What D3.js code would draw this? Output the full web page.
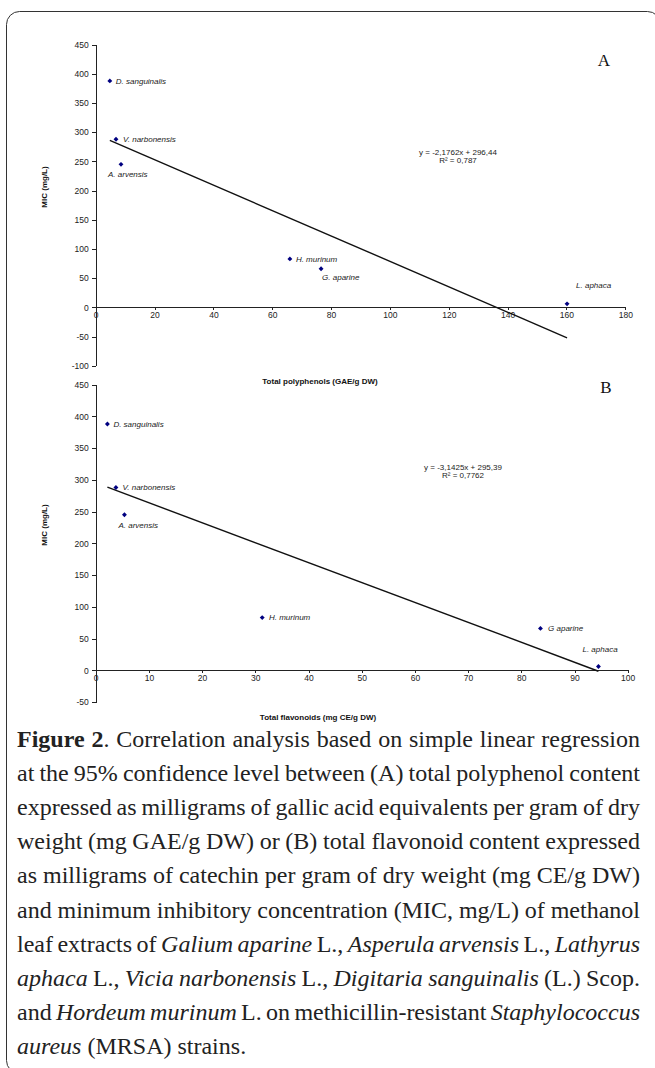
<!DOCTYPE html>
<html lang="en">
<head>
<meta charset="UTF-8">
<title>Figure 2</title>
<script src="https://cdn.jsdelivr.net/npm/d3@7"></script>
<style>
    body { margin: 0; background: #fff; }
    .axis path, .axis line { fill: none; stroke: #222; stroke-width: 1; shape-rendering: crispEdges; }
    .axis text { font-family: 'Liberation Sans', Arial, sans-serif; font-size: 8.5px; fill: #222; }
    .lbl { font-family: 'Liberation Sans', Arial, sans-serif; font-size: 8px; font-style: italic; fill: #222; }
    .eq { font-family: 'Liberation Sans', Arial, sans-serif; font-size: 8px; fill: #222; }
    .title { font-family: 'Liberation Sans', Arial, sans-serif; font-size: 8px; font-weight: bold; fill: #111; }
    .panel { font-family: 'Liberation Serif', 'Times New Roman', serif; font-size: 17px; fill: #111; }
    .cap { font-family: 'Liberation Serif', 'Times New Roman', serif; font-size: 24px; fill: #222; }
</style>
</head>
<body>
<svg id="img" width="655" height="1068"></svg>
<script>
// data
var speciesA = ["D. sanguinalis", "V. narbonensis", "A. arvensis", "H. murinum", "G. aparine", "L. aphaca"];
var speciesB = ["D. sanguinalis", "V. narbonensis", "A. arvensis", "H. murinum", "G aparine", "L. aphaca"];
var micValues = [388, 288, 245, 83, 66, 6];
var polyphenols = [4.8, 6.9, 8.6, 66.0, 76.6, 160.2];
var flavonoids = [2.2, 3.8, 5.4, 31.3, 83.6, 94.5];

var xTicksA = [0, 20, 40, 60, 80, 100, 120, 140, 160, 180];
var yTicksA = [-100, -50, 0, 50, 100, 150, 200, 250, 300, 350, 400, 450];
var xTicksB = [0, 10, 20, 30, 40, 50, 60, 70, 80, 90, 100];
var yTicksB = [-50, 0, 50, 100, 150, 200, 250, 300, 350, 400, 450];

var fitA = { slope: -2.1762, intercept: 296.44, eq: "y = -2,1762x + 296,44", r2: "R\u00b2 = 0,787" };
var fitB = { slope: -3.1425, intercept: 295.39, eq: "y = -3,1425x + 295,39", r2: "R\u00b2 = 0,7762" };

var captionLines = [
    [["Figure 2", "b"], [". Correlation analysis based on simple linear regression", ""]],
    [["at the 95% confidence level between (A) total polyphenol content", ""]],
    [["expressed as milligrams of gallic acid equivalents per gram of dry", ""]],
    [["weight (mg GAE/g DW) or (B) total flavonoid content expressed", ""]],
    [["as milligrams of catechin per gram of dry weight (mg CE/g DW)", ""]],
    [["and minimum inhibitory concentration (MIC, mg/L) of methanol", ""]],
    [["leaf extracts of ", ""], ["Galium aparine", "i"], [" L., ", ""], ["Asperula arvensis", "i"], [" L., ", ""], ["Lathyrus", "i"]],
    [["aphaca", "i"], [" L., ", ""], ["Vicia narbonensis", "i"], [" L., ", ""], ["Digitaria sanguinalis", "i"], [" (L.) Scop.", ""]],
    [["and ", ""], ["Hordeum murinum", "i"], [" L. on methicillin-resistant ", ""], ["Staphylococcus", "i"]],
    [["aureus", "i"], [" (MRSA) strains.", ""]]
];

var svg = d3.select("#img");

// outer frame with rounded corners
svg.append("rect")
    .attr("x", 6.5).attr("y", 11.5)
    .attr("width", 654).attr("height", 1062)
    .attr("rx", 13)
    .attr("fill", "none").attr("stroke", "#333").attr("stroke-width", 1);

function plain(d) { return String(d); }

function drawPanel(cfg) {
    var x = d3.scaleLinear().domain(cfg.xDomain).range([cfg.left, cfg.right]);
    var y = d3.scaleLinear().domain(cfg.yDomain).range([cfg.bottom, cfg.top]);
    var g = svg.append("g");

    g.append("g")
        .attr("class", "axis")
        .attr("transform", "translate(" + x(0) + ",0)")
        .call(d3.axisLeft(y).tickValues(cfg.yTicks).tickFormat(plain)
            .tickSize(4).tickSizeOuter(0).tickPadding(3));

    g.append("g")
        .attr("class", "axis")
        .attr("transform", "translate(0," + y(0) + ")")
        .call(d3.axisBottom(x).tickValues(cfg.xTicks).tickFormat(plain)
            .tickSize(3).tickSizeOuter(0).tickPadding(2));

    // trend line between the extreme x values
    var xs = d3.extent(cfg.xs);
    var line = d3.line().x(function (d) { return x(d); })
        .y(function (d) { return y(cfg.fit.intercept + cfg.fit.slope * d); });
    g.append("path")
        .attr("d", line(xs))
        .attr("stroke", "#111").attr("stroke-width", 1.4).attr("fill", "none");

    var pts = cfg.xs.map(function (v, i) { return { x: v, y: micValues[i], name: cfg.names[i], off: cfg.offsets[i] }; });

    g.selectAll(".pt").data(pts).enter().append("path")
        .attr("class", "pt")
        .attr("transform", function (d) { return "translate(" + x(d.x) + "," + y(d.y) + ") rotate(45)"; })
        .attr("d", d3.symbol().type(d3.symbolSquare).size(12))
        .attr("fill", "#000080");

    g.selectAll(".lbl").data(pts).enter().append("text")
        .attr("class", "lbl")
        .attr("x", function (d) { return x(d.x) + d.off[0]; })
        .attr("y", function (d) { return y(d.y) + d.off[1]; })
        .attr("dy", "0.35em")
        .text(function (d) { return d.name; });

    g.append("text").attr("class", "eq")
        .attr("x", cfg.eqPos[0]).attr("y", cfg.eqPos[1])
        .attr("text-anchor", "middle").text(cfg.fit.eq);
    g.append("text").attr("class", "eq")
        .attr("x", cfg.eqPos[0]).attr("y", cfg.eqPos[1] + 8.5)
        .attr("text-anchor", "middle").text(cfg.fit.r2);

    g.append("text").attr("class", "title")
        .attr("x", cfg.xTitle[0]).attr("y", cfg.xTitle[1])
        .attr("text-anchor", "middle").text(cfg.xLabel);
    g.append("text").attr("class", "title")
        .attr("transform", "translate(" + cfg.yTitle[0] + "," + cfg.yTitle[1] + ") rotate(-90)")
        .attr("text-anchor", "middle").text("MIC (mg/L)");

    g.append("text").attr("class", "panel")
        .attr("x", cfg.panelPos[0]).attr("y", cfg.panelPos[1])
        .attr("text-anchor", "middle").text(cfg.panel);
}

drawPanel({
    xDomain: [0, 180], yDomain: [-100, 450],
    left: 95.7, right: 625.3, top: 44.7, bottom: 365.7,
    xTicks: xTicksA, yTicks: yTicksA,
    xs: polyphenols, names: speciesA, fit: fitA,
    offsets: [[6, 0], [7, 0], [-13, 10], [6, 0], [1, 8], [9, -19]],
    eqPos: [458, 154.5], xTitle: [320, 384], yTitle: [47, 187],
    xLabel: "Total polyphenols (GAE/g DW)", panel: "A", panelPos: [604, 66]
});

drawPanel({
    xDomain: [0, 100], yDomain: [-50, 450],
    left: 95.7, right: 627.7, top: 384.7, bottom: 702,
    xTicks: xTicksB, yTicks: yTicksB,
    xs: flavonoids, names: speciesB, fit: fitB,
    offsets: [[6, 0], [6.6, 0], [-6, 10], [6.7, 0], [7.6, 0], [-16, -17]],
    eqPos: [463, 469.5], xTitle: [318, 719.5], yTitle: [47, 525],
    xLabel: "Total flavonoids (mg CE/g DW)", panel: "B", panelPos: [606, 393]
});

// justified caption
var capLeft = 17, capRight = 640, capTop = 747, capStep = 34.1;
var cap = svg.append("g").attr("class", "cap");

function measure(txt, style) {
    var t = cap.append("text").attr("x", -1000).attr("y", -1000)
        .style("font-weight", style === "b" ? "bold" : "normal")
        .style("font-style", style === "i" ? "italic" : "normal")
        .text(txt);
    var w = t.node().getComputedTextLength();
    t.remove();
    return w;
}

captionLines.forEach(function (segs, li) {
    // split into words, each word a list of styled runs
    var words = [[]];
    segs.forEach(function (s) {
        var parts = s[0].split(" ");
        parts.forEach(function (p, k) {
            if (k > 0) words.push([]);
            if (p.length) words[words.length - 1].push([p, s[1]]);
        });
    });
    words = words.filter(function (w) { return w.length; });
    var widths = words.map(function (w) {
        return w.map(function (r) { return measure(r[0], r[1]); });
    });
    var total = d3.sum(widths, function (w) { return d3.sum(w); });
    var last = li === captionLines.length - 1;
    var gap = last ? measure("a b", "") - measure("ab", "") : (capRight - capLeft - total) / (words.length - 1);
    var cx = capLeft;
    var yy = capTop + li * capStep;
    words.forEach(function (w, wi) {
        w.forEach(function (r, ri) {
            cap.append("text")
                .attr("x", cx).attr("y", yy)
                .style("font-weight", r[1] === "b" ? "bold" : "normal")
                .style("font-style", r[1] === "i" ? "italic" : "normal")
                .text(r[0]);
            cx += widths[wi][ri];
        });
        cx += gap;
    });
});
</script>
</body>
</html>
